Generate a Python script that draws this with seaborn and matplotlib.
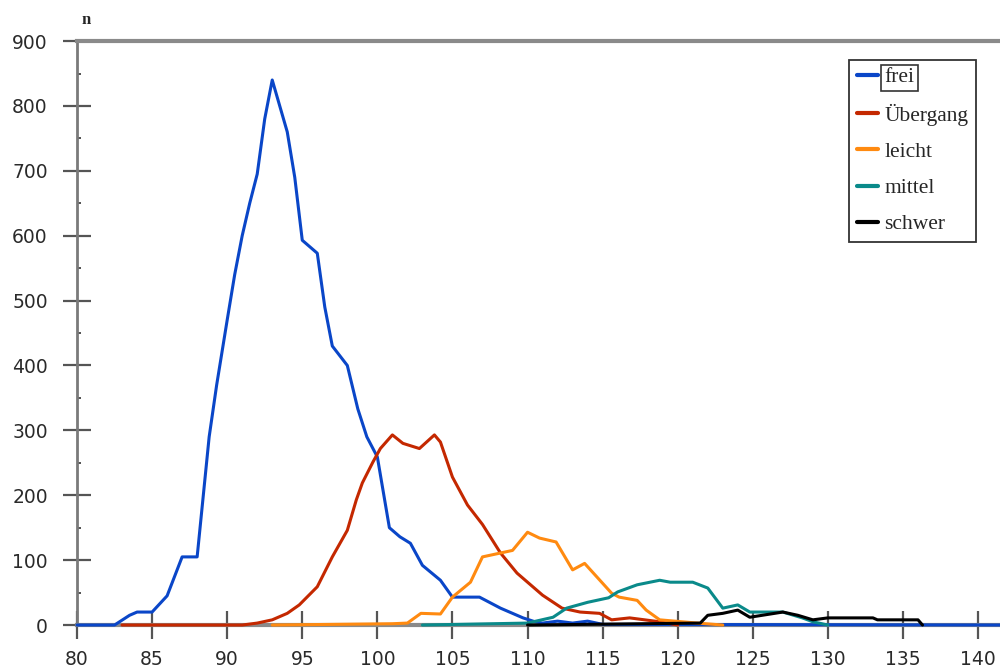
import matplotlib
matplotlib.use("Agg")
import pandas as pd
import matplotlib.pyplot as plt
import seaborn as sns
from matplotlib.lines import Line2D
from matplotlib.ticker import MultipleLocator

sns.set_style("white")

series = ["frei", "Übergang", "leicht", "mittel", "schwer"]
colors = ["#0a46c8", "#c42800", "#ff8a10", "#0a8a8a", "#000000"]

frei_x = [80, 82.5, 83.5, 84, 85, 86, 87, 88, 88.8, 89.3, 90, 90.5, 91, 91.5, 92, 92.5,
          93, 93.5, 94, 94.5, 95, 96, 96.5, 97, 98, 98.7, 99.3, 100, 100.8, 101.5, 102.2,
          103, 104.2, 105, 106.8, 108.2, 109.7, 110.5, 111, 112, 113, 114, 115, 141.5]
frei_y = [0, 0, 15, 20, 20, 45, 105, 105, 290, 370, 470, 540, 600, 650, 695, 780,
          840, 800, 760, 690, 593, 573, 490, 430, 400, 333, 290, 259, 150, 136, 126,
          92, 69, 43, 43, 26, 11, 5, 3, 6, 3, 6, 1, 0]

uebergang_x = [83, 91, 92, 93, 94, 94.8, 96, 97, 98, 98.6, 99, 99.7, 100.2, 101, 101.7,
               102.8, 103.8, 104.2, 105, 106, 107, 108.2, 109.3, 110.2, 111, 112.3,
               113.5, 114.8, 115.6, 116.8, 118.8, 120]
uebergang_y = [0, 0, 3, 8, 18, 31, 59, 105, 146, 193, 219, 251, 272, 293, 280,
               272, 293, 282, 228, 185, 155, 111, 80, 62, 46, 26,
               20, 18, 8, 11, 5, 0]

leicht_x = [93, 101, 102, 102.9, 104.2, 105, 106.2, 107, 108.2, 109, 110, 110.8, 111.9,
            113, 113.8, 115.6, 116.1, 117.3, 117.9, 118.8, 121.3, 123]
leicht_y = [0, 2, 3, 18, 17, 43, 66, 105, 111, 115, 143, 134, 128,
            85, 95, 49, 43, 38, 23, 8, 3, 0]

mittel_x = [103, 110, 111.7, 112.6, 114, 115.4, 116, 117.3, 118.8, 119.5, 121, 122, 123,
            124, 124.8, 127, 128.3, 129, 130]
mittel_y = [0, 3, 12, 26, 35, 42, 51, 62, 69, 66, 66, 57, 26,
            31, 20, 20, 11, 5, 0]

schwer_x = [110, 121.5, 122, 123, 124, 124.8, 127, 128, 129, 130, 133, 133.3, 136, 136.3]
schwer_y = [0, 3, 15, 18, 23, 12, 20, 15, 8, 11, 11, 8, 8, 0]

xs = [frei_x, uebergang_x, leicht_x, mittel_x, schwer_x]
ys = [frei_y, uebergang_y, leicht_y, mittel_y, schwer_y]
df = pd.concat([pd.DataFrame({"x": x, "n": y, "Zustand": name})
                for name, x, y in zip(series, xs, ys)], ignore_index=True)

fig = plt.figure(figsize=(10, 6.72), dpi=100)
ax = fig.add_axes([0.077, 0.0699, 0.923, 0.869])

sns.lineplot(data=df, x="x", y="n", hue="Zustand", hue_order=series,
             palette=colors, estimator=None, sort=False, lw=2.2, legend=False, ax=ax)
for ln in ax.lines:
    ln.set_clip_on(False)
    ln.set_zorder(5)

ax.set_xlim(80, 141.46)
ax.set_ylim(0, 900)
ax.xaxis.set_major_locator(MultipleLocator(5))
ax.yaxis.set_major_locator(MultipleLocator(100))
ax.yaxis.set_minor_locator(MultipleLocator(50))
ax.set_xlabel("")
ax.set_ylabel("")

ax.tick_params(axis="both", which="major", direction="inout", length=20, width=1.6,
               color="#555555", labelsize=13.5, labelcolor="#2a2a2a",
               bottom=True, left=True)
ax.tick_params(axis="y", which="major", pad=11)
ax.tick_params(axis="x", which="major", pad=8)
ax.tick_params(axis="y", which="minor", direction="in", length=3, width=1.2,
               color="#333333", left=True)

ax.spines["right"].set_visible(False)
ax.spines["left"].set_color("#7a7a7a")
ax.spines["left"].set_linewidth(2)
for s in ["top", "bottom"]:
    ax.spines[s].set_color("#8a8a8a")
    ax.spines[s].set_linewidth(3)

fig.text(0.086, 1 - 20 / 672, "n", family="Liberation Serif", weight="bold",
         fontsize=12, ha="center", va="center")

handles = [Line2D([], [], color=c, lw=3) for c in colors]
leg = ax.legend(handles, series, loc="upper left", bbox_to_anchor=(0.849, 0.911),
                bbox_transform=fig.transFigure, borderaxespad=0, frameon=True,
                fancybox=False, framealpha=1, edgecolor="#333333",
                prop={"family": "Liberation Serif", "size": 15.5},
                handlelength=1.0, handletextpad=0.3, labelspacing=0.75, borderpad=0.35)
leg.get_frame().set_linewidth(1.3)
leg.get_texts()[0].set_bbox(dict(boxstyle="square,pad=0.15", fc="none", ec="#333333", lw=1.2))

fig.savefig("out.png", dpi=100)
